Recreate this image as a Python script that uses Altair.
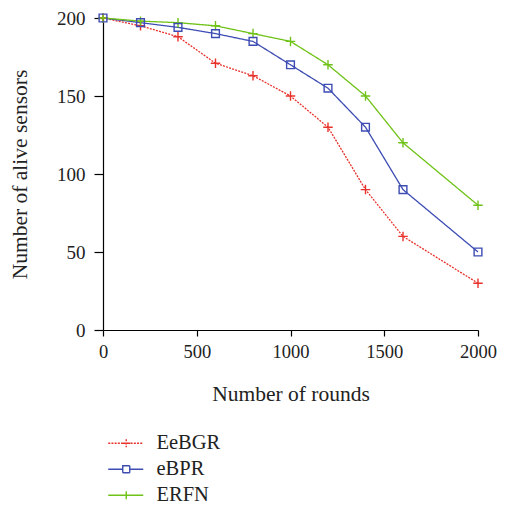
import altair as alt
import pandas as pd

rounds = [0, 200, 400, 600, 800, 1000, 1200, 1400, 1600, 2000]
eebgr = [200, 195, 188, 171, 163, 150, 130, 90, 60, 30]
ebpr = [200, 197, 194, 190, 185, 170, 155, 130, 90, 50]
erfn = [200, 198, 197, 195, 190, 185, 170, 150, 120, 80]

series_names = ["EeBGR", "eBPR", "ERFN"]
colors = ["#e8322c", "#3d4cb3", "#6fc217"]
dashes = [[2, 1.2], [1, 0], [1, 0]]

rows = []
for name, vals in zip(series_names, [eebgr, ebpr, erfn]):
    for r, v in zip(rounds, vals):
        rows.append({"series": name, "rounds": r, "alive": v})
df = pd.DataFrame(rows)

FONT = "Liberation Serif"
PLUS = "M-1,0H1M0,-1V1"

# legend glyphs: line sample with marker (unit = 5px at symbolSize 100)
dotted = ""
s = -1.0
while s < 6.0:
    e = min(s + 0.4, 6.0)
    dotted += "M%.2f,0H%.2f" % (s, e)
    s += 0.64
legend_shapes = [
    dotted + "M1.8,0H3.4M2.6,-0.8V0.8",
    "M-1,0H1.9M3.3,0H6M1.9,-0.7H3.3V0.7H1.9Z",
    "M-1,0H6M2.6,-0.8V0.8",
]

LEG = alt.Legend(
    title=None, orient="none", legendX=0, legendY=415, symbolSize=100,
    labelFont=FONT, labelFontSize=20.5, labelColor="#222", rowPadding=5,
    labelOffset=33, symbolStrokeWidth=1.4, labelLimit=200, padding=0)

color_enc = alt.Color("series:N", scale=alt.Scale(domain=series_names, range=colors), legend=LEG)
dash_enc = alt.StrokeDash("series:N", scale=alt.Scale(domain=series_names, range=dashes), legend=None)
shape_enc = alt.Shape("series:N", scale=alt.Scale(domain=series_names, range=legend_shapes), legend=LEG)

x_enc = alt.X("rounds:Q", title="Number of rounds",
              scale=alt.Scale(domain=[0, 2000], nice=False),
              axis=alt.Axis(values=[0, 500, 1000, 1500, 2000], format="d", grid=False,
                            labelFlush=False, tickSize=6, labelPadding=6, labelFontSize=18.5,
                            titlePadding=23, titleFontSize=21.5))
y_enc = alt.Y("alive:Q", title="Number of alive sensors",
              scale=alt.Scale(domain=[0, 200], nice=False),
              axis=alt.Axis(values=[0, 50, 100, 150, 200], format="d", grid=False,
                            labelFlush=False, tickSize=9, labelPadding=9, labelFontSize=19,
                            titlePadding=25, titleFontSize=21.5))

base = alt.Chart(df).encode(x=x_enc, y=y_enc)

lines = base.mark_line(strokeWidth=1.3).encode(color=color_enc, strokeDash=dash_enc)

pts_plus = base.transform_filter(alt.datum.series != "eBPR").mark_point(
    shape=PLUS, size=90, filled=False, strokeWidth=1.4, opacity=1
).encode(color=color_enc)

pts_sq = base.transform_filter(alt.datum.series == "eBPR").mark_point(
    shape="square", size=60, filled=False, strokeWidth=1.4, opacity=1
).encode(color=color_enc)

legend_layer = base.transform_filter("false").mark_point(
    filled=False, strokeWidth=1.4, opacity=1
).encode(color=color_enc, shape=shape_enc)

chart = alt.layer(lines, pts_plus, pts_sq, legend_layer).properties(
    width=375, height=312,
    autosize=alt.AutoSizeParams(type="none"),
    padding={"left": 95, "top": 10, "right": 19, "bottom": 175},
).configure_view(stroke=None).configure_axis(
    domainColor="#000", tickColor="#000", domainWidth=1.2, tickWidth=1.2,
    labelFont=FONT, labelColor="#222",
    titleFont=FONT, titleColor="#222", titleFontWeight="normal",
)

chart.save("out.html", embed_options={"renderer": "svg", "actions": False})
